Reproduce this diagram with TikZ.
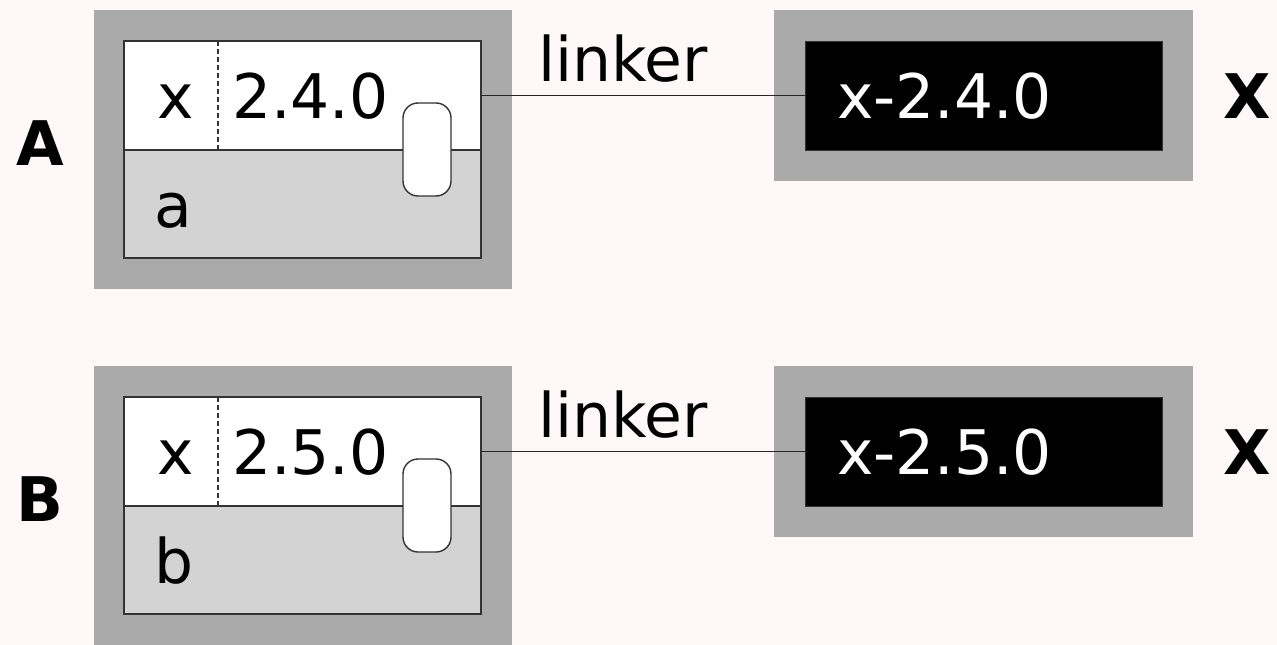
\documentclass[tikz,border=0pt]{standalone}
\usepackage{fontspec}
\setmainfont{DejaVu Sans}
\definecolor{paper}{HTML}{FFF8F8}
\definecolor{frame}{HTML}{AAAAAA}
\definecolor{lower}{HTML}{D3D3D3}
\definecolor{edge}{HTML}{333333}
\tikzset{
  box/.style={rectangle, inner sep=0pt, outer sep=0pt, anchor=center},
  framebox/.style={box, fill=frame},
  upperpart/.style={box, fill=white, draw=edge, line width=1.4pt},
  lowerpart/.style={box, fill=lower, draw=edge, line width=1.4pt},
  knob/.style={box, fill=white, draw=edge, line width=1.4pt, rounded corners=15pt,
               minimum width=48pt, minimum height=93pt},
  libbox/.style={box, fill=black, draw=edge, line width=1pt},
  txt/.style={inner sep=0pt, outer sep=0pt, anchor=base west,
              font=\fontsize{61.5}{72}\selectfont},
  bigtxt/.style={txt, font=\fontsize{61.5}{72}\selectfont\bfseries},
  wire/.style={draw=black!85, line width=1.4pt}
}
% one row: #1 tag, #2 version, #3 lower label, #4 vertical offset
\newcommand\buildrow[4]{%
  \begin{scope}[yshift=-#4pt]
    \node[framebox, minimum width=418pt, minimum height=279pt] (outer#1) at (303,149.5) {};
    \node[upperpart, minimum width=357pt, minimum height=109pt] (top#1) at (302.5,95.5) {};
    \node[lowerpart, minimum width=357pt, minimum height=108pt] (bot#1) at (302.5,204) {};
    \draw[edge, line width=1.3pt, dash pattern=on 5pt off 3pt] (218,41) -- (218,150);
    \node[knob] (knob#1) at (427,149.5) {};
    \node[txt] (name#1) at (157,118) {x};
    \node[txt] (ver#1) at (232,118) {#2};
    \node[txt] (pkg#1) at (154.5,227) {#3};
    \node[bigtxt] (tag#1) at (16.5,165) {#1};
    \node[framebox, minimum width=419pt, minimum height=171pt] (libframe#1) at (983.5,95.5) {};
    \node[libbox, minimum width=357pt, minimum height=109pt] (lib#1) at (983.5,95.5) {};
    \node[txt, text=white] (libtxt#1) at (837,118) {x-#2};
    \node[bigtxt] (libtag#1) at (1223,118) {X};
    \node[txt] (link#1) at (538,81) {linker};
    \draw[wire] (lib#1.west -| top#1.east) -- (lib#1.west);
  \end{scope}%
}
\begin{document}
\begin{tikzpicture}[x=1pt, y=-1pt]
  \useasboundingbox (0,0) rectangle (1277,645);
  \fill[paper] (0,0) rectangle (1277,645);
  \begin{scope}
    \clip (0,0) rectangle (1277,645);
    \buildrow{A}{2.4.0}{a}{0}
    \buildrow{B}{2.5.0}{b}{356}
  \end{scope}
\end{tikzpicture}
\end{document}
